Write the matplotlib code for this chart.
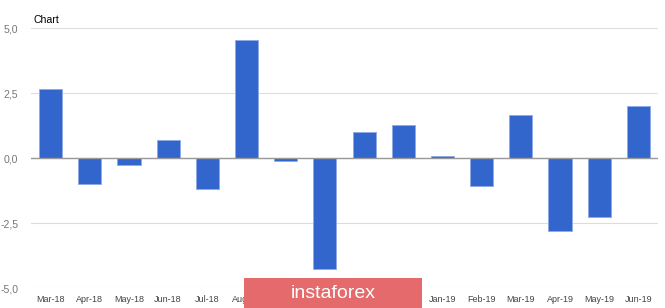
import matplotlib
matplotlib.use("Agg")
import matplotlib.pyplot as plt
from matplotlib.patches import Rectangle

plt.rcParams['font.family'] = ['Liberation Sans', 'DejaVu Sans']

months = ['Mar-18', 'Apr-18', 'May-18', 'Jun-18', 'Jul-18', 'Aug-18', 'Sep-18', 'Oct-18',
          'Nov-18', 'Dec-18', 'Jan-19', 'Feb-19', 'Mar-19', 'Apr-19', 'May-19', 'Jun-19']
values = [2.67, -1.0, -0.28, 0.68, -1.18, 4.55, -0.1, -4.26,
          0.99, 1.28, 0.07, -1.08, 1.67, -2.79, -2.26, 1.99]
yticks = [-5.0, -2.5, 0.0, 2.5, 5.0]
ytick_labels = ['-5,0', '-2,5', '0,0', '2,5', '5,0']

fig = plt.figure(figsize=(6.65, 3.08), dpi=100)
ax = fig.add_axes([31 / 665, 1 - 288 / 308, 627 / 665, (288 - 28.3) / 308])

x = list(range(len(months)))
ax.bar(x, values, width=0.59, color='#3366CC', edgecolor='#8fa9e6', linewidth=0.6, zorder=3)

ax.set_xlim(-0.5, len(months) - 0.5)
ax.set_ylim(-5, 5)
ax.set_yticks(yticks)
ax.set_yticklabels(ytick_labels)
ax.set_xticks(x)
ax.set_xticklabels(months)
ax.tick_params(axis='x', length=0, labelsize=6.5, colors='#444444', pad=5)
ax.tick_params(axis='y', length=0, labelsize=7.6, colors='#777777', pad=9)

ax.grid(axis='y', color='#dddddd', linewidth=0.8, zorder=0)
ax.axhline(0, color='#999999', linewidth=1.0, zorder=4)
for s in ax.spines.values():
    s.set_visible(False)

fig.text(34 / 665, 1 - 20 / 308, 'Chart', fontsize=7.6, color='#000000', va='center', ha='left')

# watermark box over the bottom labels
fig.patches.append(Rectangle((244 / 665, 0), 178 / 665, 30 / 308, transform=fig.transFigure,
                             facecolor='#E46A6C', edgecolor='none', zorder=10))
fig.text(333 / 665, 15 / 308, 'instaforex', fontsize=14, color='white',
         ha='center', va='center', zorder=11)

fig.savefig('out.png', dpi=100)
